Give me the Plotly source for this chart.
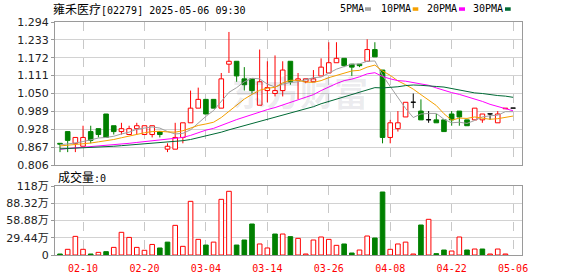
import plotly.graph_objects as go

# ---------------- data ----------------
dates = ["02-05","02-06","02-07","02-10","02-11","02-12","02-13","02-14","02-17","02-18",
         "02-19","02-20","02-21","02-24","02-25","02-26","02-27","02-28","03-03","03-04",
         "03-05","03-06","03-07","03-10","03-11","03-12","03-13","03-14","03-17","03-18",
         "03-19","03-20","03-21","03-24","03-25","03-26","03-27","03-28","03-31","04-01",
         "04-02","04-03","04-07","04-08","04-09","04-10","04-11","04-14","04-15","04-16",
         "04-17","04-22","04-23","04-24","04-25","04-28","04-29","04-30","05-02","05-06"]

open_ = [0.880,0.920,0.880,0.870,0.920,0.930,0.980,0.940,0.920,0.910,
         0.930,0.910,0.910,0.920,0.860,0.860,0.900,0.950,1.000,1.030,
         1.030,1.000,1.150,1.160,1.100,1.100,1.010,1.060,1.050,1.060,
         1.160,1.095,1.090,1.090,1.110,1.120,1.155,1.170,1.150,1.150,
         1.160,1.200,1.130,0.900,0.930,0.970,1.020,0.990,0.960,0.960,
         0.960,0.980,0.990,0.960,0.960,0.960,0.980,0.950,0.998,1.000]
high = [0.880,0.920,0.900,0.940,0.940,0.930,0.980,0.940,0.950,0.940,
        0.950,0.940,0.940,0.920,0.880,0.950,0.950,1.060,1.070,1.030,
        1.030,1.120,1.260,1.160,1.140,1.100,1.200,1.160,1.180,1.160,
        1.160,1.120,1.100,1.130,1.170,1.225,1.225,1.170,1.150,1.150,
        1.235,1.225,1.130,0.960,0.990,1.020,1.050,1.030,0.990,0.980,
        0.960,0.990,0.990,0.960,1.000,0.980,0.980,0.990,1.000,1.000]
low = [0.850,0.850,0.850,0.870,0.880,0.900,0.900,0.910,0.910,0.910,
       0.910,0.910,0.900,0.900,0.850,0.860,0.880,0.950,1.000,0.980,
       1.000,1.000,1.120,1.090,1.060,1.050,1.010,1.020,1.040,1.040,
       1.080,1.030,1.085,1.090,1.110,1.120,1.155,1.140,1.110,1.140,
       1.160,1.175,0.880,0.880,0.920,0.970,1.000,0.960,0.950,0.950,
       0.920,0.940,0.940,0.940,0.960,0.950,0.960,0.950,0.998,1.000]
close = [0.877,0.890,0.900,0.900,0.890,0.910,0.900,0.920,0.930,0.930,
         0.940,0.940,0.940,0.910,0.870,0.900,0.950,1.000,1.030,0.980,
         1.000,1.100,1.160,1.110,1.080,1.060,1.090,1.070,1.060,1.130,
         1.090,1.100,1.100,1.100,1.140,1.155,1.170,1.145,1.140,1.145,
         1.200,1.175,0.900,0.950,0.950,1.020,1.020,0.960,0.960,0.950,
         0.920,0.960,0.970,0.940,1.000,0.980,0.980,0.980,1.000,1.000]

ma5 = [0.875,0.877,0.881,0.886,0.891,0.898,0.900,0.904,0.912,0.918,
       0.928,0.932,0.936,0.932,0.920,0.912,0.914,0.926,0.950,0.972,
       0.992,1.022,1.054,1.070,1.090,1.102,1.100,1.082,1.072,1.082,
       1.088,1.090,1.096,1.104,1.106,1.119,1.133,1.142,1.150,1.151,
       1.160,1.161,1.112,1.074,1.035,0.999,0.968,0.980,0.982,0.982,
       0.962,0.950,0.952,0.948,0.958,0.970,0.974,0.976,0.988,0.988]
ma10 = [0.871,0.873,0.876,0.879,0.881,0.885,0.888,0.893,0.899,0.905,
        0.911,0.916,0.920,0.921,0.919,0.918,0.923,0.931,0.941,0.946,
        0.952,0.968,0.990,1.010,1.031,1.047,1.061,1.068,1.071,1.086,
        1.095,1.095,1.089,1.088,1.094,1.104,1.112,1.119,1.127,1.129,
        1.140,1.147,1.127,1.112,1.093,1.080,1.065,1.046,1.028,1.009,
        0.981,0.959,0.966,0.965,0.970,0.966,0.962,0.964,0.968,0.973]
ma20 = [0.860,0.862,0.864,0.866,0.868,0.870,0.872,0.874,0.877,0.880,
        0.883,0.886,0.889,0.891,0.893,0.896,0.900,0.907,0.916,0.925,
        0.931,0.940,0.951,0.961,0.970,0.978,0.987,0.995,1.002,1.011,
        1.020,1.028,1.036,1.046,1.060,1.073,1.084,1.094,1.099,1.107,
        1.117,1.121,1.108,1.100,1.094,1.092,1.088,1.083,1.078,1.069,
        1.060,1.053,1.047,1.039,1.032,1.023,1.013,1.005,0.998,0.991]
ma30 = [0.861,0.862,0.863,0.864,0.865,0.867,0.868,0.870,0.872,0.874,
        0.876,0.878,0.881,0.883,0.884,0.886,0.889,0.893,0.899,0.905,
        0.910,0.918,0.926,0.933,0.940,0.947,0.954,0.961,0.968,0.976,
        0.984,0.991,0.998,1.005,1.015,1.023,1.032,1.039,1.046,1.054,
        1.062,1.070,1.069,1.070,1.073,1.077,1.079,1.078,1.075,1.074,
        1.072,1.067,1.061,1.055,1.052,1.050,1.046,1.043,1.041,1.037]

# volume in 万 shares, and whether the volume bar is drawn red (up) or green
volume = [1.7,9.7,31.8,9.7,1.7,4.5,5.7,13.0,38.7,30.0,
          13.0,8.0,18.0,12.0,22.0,50.6,14.8,91.6,26.7,17.0,
          22.0,95.0,108.7,17.0,25.6,52.9,18.8,12.0,35.8,35.8,
          31.3,28.4,1.7,25.6,30.7,26.7,16.5,18.8,3.4,8.5,
          32.4,29.0,107.5,9.7,18.8,22.0,1.7,51.2,60.9,2.3,
          8.5,6.8,30.7,8.5,10.2,10.2,1.7,10.2,1.7,0.0]
vol_up = [0,1,1,1,0,1,0,1,1,1,
          1,1,1,0,0,1,1,1,1,0,
          1,1,1,0,0,0,1,1,0,1,
          0,1,1,1,1,1,1,0,0,1,
          1,0,0,1,1,1,1,0,1,0,
          0,1,1,0,1,0,1,1,1,1]

tick_dates = ["02-10","02-20","03-04","03-14","03-26","04-08","04-22","05-06"]
price_ticks = [0.806,0.867,0.928,0.989,1.050,1.111,1.172,1.233,1.294]
vol_ticks = [0,29.44,58.88,88.32,117.76]
vol_tick_text = ["0","29.44万","58.88万","88.32万","118万"]

title_name = "雍禾医疗"
title_rest = "[02279] 2025-05-06 09:30"
vol_label = "成交量"
ma_names = ["5PMA","10PMA","20PMA","30PMA"]

# ---------------- style ----------------
RED = "#ff0000"
GREEN = "#008000"
MA_COLORS = ["#a0a0a0", "#f5a000", "#ff00ff", "#006a35"]
GRID = "#d2d2d2"
FRAME = "#9a9a9a"
MONO = "DejaVu Sans Mono, Noto Sans CJK SC"

fig = go.Figure()

n = len(dates)
up_idx = [i for i in range(n) if close[i] > open_[i]]
dn_idx = [i for i in range(n) if close[i] < open_[i]]
eq_idx = [i for i in range(n) if close[i] == open_[i]]

def wicks(idx):
    xs, ys = [], []
    for i in idx:
        top = max(open_[i], close[i]); bot = min(open_[i], close[i])
        if high[i] > top:
            xs += [dates[i], dates[i], None]; ys += [top, high[i], None]
        if low[i] < bot:
            xs += [dates[i], dates[i], None]; ys += [low[i], bot, None]
    return xs, ys

# candle bodies
fig.add_trace(go.Bar(x=[dates[i] for i in up_idx],
                     y=[close[i]-open_[i] for i in up_idx],
                     base=[open_[i] for i in up_idx], width=0.6,
                     marker=dict(color="white", line=dict(color=RED, width=1)),
                     xaxis="x", yaxis="y", hoverinfo="skip"))
fig.add_trace(go.Bar(x=[dates[i] for i in dn_idx],
                     y=[open_[i]-close[i] for i in dn_idx],
                     base=[close[i] for i in dn_idx], width=0.6,
                     marker=dict(color=GREEN, line=dict(color=GREEN, width=1)),
                     xaxis="x", yaxis="y", hoverinfo="skip"))
fig.add_trace(go.Bar(x=[dates[i] for i in eq_idx],
                     y=[0.0006 for i in eq_idx],
                     base=[open_[i] for i in eq_idx], width=0.6,
                     marker=dict(color="black", line=dict(color="black", width=1)),
                     xaxis="x", yaxis="y", hoverinfo="skip"))

for idx, col in ((up_idx, RED), (dn_idx, GREEN), (eq_idx, "black")):
    wx, wy = wicks(idx)
    fig.add_trace(go.Scatter(x=wx, y=wy, mode="lines", line=dict(color=col, width=1),
                             xaxis="x", yaxis="y", hoverinfo="skip"))

for vals, col in zip((ma5, ma10, ma20, ma30), MA_COLORS):
    fig.add_trace(go.Scatter(x=dates, y=vals, mode="lines", line=dict(color=col, width=1),
                             xaxis="x", yaxis="y", hoverinfo="skip"))

# volume
vu = [i for i in range(n) if vol_up[i] and volume[i] > 0]
vd = [i for i in range(n) if not vol_up[i] and volume[i] > 0]
fig.add_trace(go.Bar(x=[dates[i] for i in vu], y=[volume[i] for i in vu], width=0.6,
                     marker=dict(color="white", line=dict(color=RED, width=1)),
                     xaxis="x2", yaxis="y2", hoverinfo="skip"))
fig.add_trace(go.Bar(x=[dates[i] for i in vd], y=[volume[i] for i in vd], width=0.6,
                     marker=dict(color=GREEN, line=dict(color=GREEN, width=1)),
                     xaxis="x2", yaxis="y2", hoverinfo="skip"))

L, R, T, B = 55, 56, 22, 21
W, H = 578 - L - R, 276 - T - B
def px(x): return (x - L) / W
def py(y): return (276 - B - y) / H

xcommon = dict(type="category", categoryorder="array", categoryarray=dates,
               range=[-0.651, 60.16], tickmode="array", tickvals=tick_dates,
               showgrid=True, gridcolor="#c8c8c8", griddash="dash", gridwidth=1,
               showline=True, mirror=True, linecolor=FRAME, linewidth=1,
               zeroline=False, ticks="", fixedrange=True, automargin=False)

fig.update_layout(
    width=578, height=276, margin=dict(l=L, r=R, t=T, b=B, pad=0, autoexpand=False),
    paper_bgcolor="white", plot_bgcolor="white", showlegend=False,
    barmode="overlay",
    xaxis=dict(xcommon, anchor="y", domain=[0, 1], showticklabels=False),
    xaxis2=dict(xcommon, anchor="y2", domain=[0, 1], showticklabels=True,
                ticklabelstandoff=4,
                tickfont=dict(family=MONO, size=10, color=RED)),
    yaxis=dict(domain=[py(165), 1], range=[0.806, 1.294], tickmode="array",
               tickvals=price_ticks, ticktext=[f"{v:.3f}" for v in price_ticks],
               showgrid=True, gridcolor=GRID, gridwidth=1, zeroline=False,
               showline=True, mirror=True, linecolor=FRAME, linewidth=1,
               ticks="outside", ticklen=3, tickcolor=FRAME, automargin=False,
               tickfont=dict(family="DejaVu Sans", size=11, color="#222222")),
    yaxis2=dict(domain=[0, py(186)], range=[0, 117.76], tickmode="array",
                tickvals=vol_ticks, ticktext=vol_tick_text,
                showgrid=True, gridcolor=GRID, gridwidth=1, zeroline=False,
                showline=True, mirror=True, linecolor=FRAME, linewidth=1,
                ticks="outside", ticklen=3, tickcolor=FRAME, automargin=False,
                tickfont=dict(family="DejaVu Sans, Noto Sans CJK SC", size=11, color="#222222")),
)

ann = []
ann.append(dict(xref="paper", yref="paper", x=px(51), y=py(9.2), xanchor="left", yanchor="middle",
                showarrow=False, font=dict(family=MONO, size=10, color="black"),
                text=f'<span style="font-size:12px">{title_name}</span>{title_rest}'))
ann.append(dict(xref="paper", yref="paper", x=px(56), y=py(177), xanchor="left", yanchor="middle",
                showarrow=False, font=dict(family=MONO, size=10, color="black"),
                text=f'<span style="font-size:12px">{vol_label}</span>:0'))
ann.append(dict(xref="paper", yref="paper", x=px(300), y=py(92), xanchor="center", yanchor="middle",
                showarrow=False, font=dict(family="Noto Sans CJK SC", size=34, color="rgba(60,60,90,0.10)"),
                text="<b>东方财富</b>"))

leg_text_x = [337.5, 378.5, 425, 471]
leg_sq_x = [(365, 371), (412.7, 418.3), (459, 465), (505, 510.7)]
shapes = []
for name, tx, (s0, s1), col in zip(ma_names, leg_text_x, leg_sq_x, MA_COLORS):
    ann.append(dict(xref="paper", yref="paper", x=px(tx), y=py(8.7), xanchor="left", yanchor="middle",
                    showarrow=False, font=dict(family=MONO, size=10, color="black"), text=name))
    shapes.append(dict(type="rect", xref="paper", yref="paper", x0=px(s0), x1=px(s1),
                       y0=py(10.8), y1=py(7.3), fillcolor=col, line=dict(width=0)))

fig.update_layout(annotations=ann, shapes=shapes)

fig.write_html("out.html")
